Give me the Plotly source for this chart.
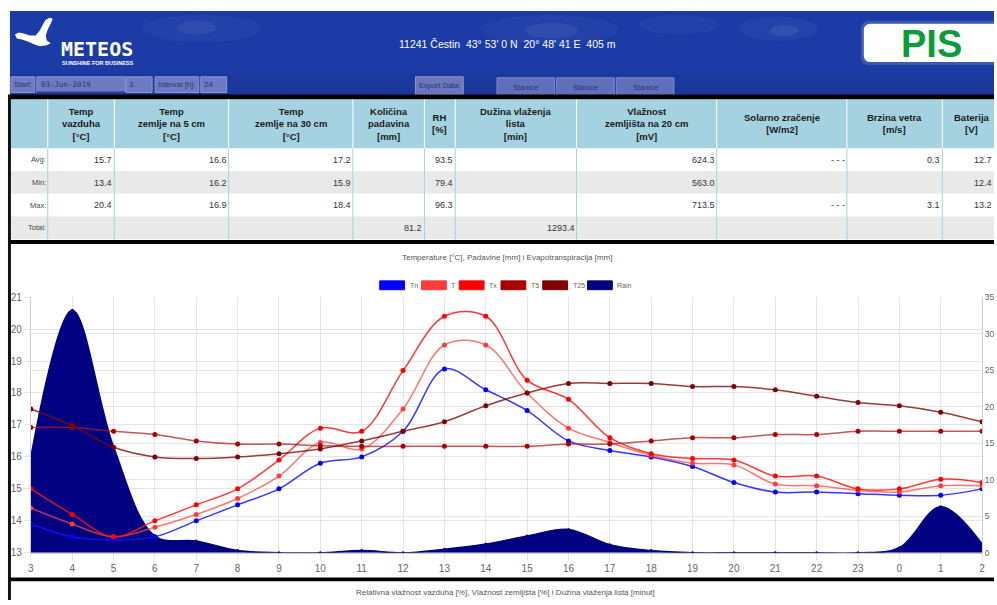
import plotly.graph_objects as go

# ---------------- data ----------------
hours = ["3", "4", "5", "6", "7", "8", "9", "10", "11", "12", "13", "14", "15", "16",
         "17", "18", "19", "20", "21", "22", "23", "0", "1", "2"]
tn = [13.9, 13.5, 13.4, 13.5, 14.0, 14.5, 15.0, 15.8, 16.0, 16.8, 18.75, 18.1, 17.45, 16.5,
      16.2, 16.0, 15.7, 15.2, 14.9, 14.9, 14.85, 14.8, 14.8, 15.0]
t = [14.4, 13.9, 13.5, 13.8, 14.2, 14.7, 15.4, 16.45, 16.25, 17.5, 19.5, 19.5, 18.0, 16.9,
     16.45, 16.05, 15.8, 15.75, 15.15, 15.1, 14.95, 14.9, 15.1, 15.1]
tx = [15.0, 14.2, 13.5, 14.0, 14.5, 15.0, 15.9, 16.9, 16.8, 18.7, 20.4, 20.4, 18.4, 17.8,
      16.6, 16.1, 15.95, 15.9, 15.4, 15.4, 15.0, 15.0, 15.3, 15.2]
t5 = [16.92, 16.92, 16.8, 16.7, 16.5, 16.4, 16.4, 16.35, 16.33, 16.33, 16.33, 16.33, 16.33, 16.4,
      16.4, 16.5, 16.6, 16.6, 16.7, 16.7, 16.8, 16.8, 16.8, 16.8]
t25 = [17.5, 16.98, 16.3, 16.0, 15.95, 16.0, 16.1, 16.25, 16.5, 16.8, 17.1, 17.6, 18.0, 18.3,
       18.3, 18.3, 18.2, 18.2, 18.1, 17.9, 17.7, 17.6, 17.4, 17.1]
rain = [13.1, 33.2, 14.5, 2.3, 1.6, 0.3, 0.0, 0.0, 0.3, 0.0, 0.5, 1.2, 2.3, 3.2,
        1.1, 0.3, 0.0, 0.0, 0.0, 0.0, 0.0, 0.7, 6.3, 1.2]

temp_ticks = [13, 14, 15, 16, 17, 18, 19, 20, 21]
rain_ticks = [0, 5, 10, 15, 20, 25, 30, 35]

station_title = "11241 Čestin  43° 53' 0 N  20° 48' 41 E  405 m"
chart_title = "Temperature [°C], Padavine [mm] i Evapotranspiracija [mm]"
footer_title = "Relativna vlažnost vazduha [%], Vlažnost zemljišta [%] i Dužina vlaženja lista [minut]"

col_headers = ["Temp<br>vazduha<br>[°C]", "Temp<br>zemlje na 5 cm<br>[°C]",
               "Temp<br>zemlje na 30 cm<br>[°C]", "Količina<br>padavina<br>[mm]", "RH<br>[%]",
               "Dužina vlaženja<br>lista<br>[min]", "Vlažnost<br>zemljišta na 20 cm<br>[mV]",
               "Solarno zračenje<br>[W/m2]", "Brzina vetra<br>[m/s]", "Baterija<br>[V]"]
row_labels = ["Avg:", "Min:", "Max:", "Total:"]
avg_vals = ["15.7", "16.6", "17.2", "", "93.5", "", "624.3", "- - -", "0.3", "12.7"]
min_vals = ["13.4", "16.2", "15.9", "", "79.4", "", "563.0", "", "", "12.4"]
max_vals = ["20.4", "16.9", "18.4", "", "96.3", "", "713.5", "- - -", "3.1", "13.2"]
tot_vals = ["", "", "", "81.2", "", "1293.4", "", "", "", ""]

series_names = ["Tn", "T", "Tx", "T5", "T25", "Rain"]
series_colors = ["#0000ff", "#ff3b3b", "#ff0000", "#aa0000", "#800000", "#000080"]
line_colors = ["rgba(20,20,255,0.85)", "rgba(255,70,70,0.75)", "rgba(255,20,20,0.85)",
               "rgba(175,30,30,0.75)", "rgba(128,10,10,0.8)", "#000080"]

# ---------------- helpers ----------------
W, H = 997, 605
SANS = "Liberation Sans, Arial, sans-serif"


def X(p):
    return min(max(p, 0), W) / W


def Y(p):
    return 1 - min(max(p, 0), H) / H


shapes = []
annotations = []


def rect(x0, y0, x1, y1, fill, line=None, lw=0):
    shapes.append(dict(type="rect", xref="paper", yref="paper",
                       x0=X(x0), x1=X(x1), y0=Y(y1), y1=Y(y0),
                       fillcolor=fill, line=dict(color=line or fill, width=lw), layer="above"))


def ellipse(x0, y0, x1, y1, fill):
    shapes.append(dict(type="circle", xref="paper", yref="paper",
                       x0=X(x0), x1=X(x1), y0=Y(y1), y1=Y(y0),
                       fillcolor=fill, line=dict(width=0), layer="above"))


def path(pts, fill):
    d = "M " + " L ".join(f"{X(a):.5f},{Y(b):.5f}" for a, b in pts) + " Z"
    shapes.append(dict(type="path", xref="paper", yref="paper", path=d,
                       fillcolor=fill, line=dict(width=0), layer="above"))


def lbox(x0, y0, y1, r, fill):
    """box rounded on its left side, running to the right edge of the page"""
    def P(a, b):
        return f"{X(a):.5f},{Y(b):.5f}"
    d = (f"M {P(x0 + r, y0)} L {P(W, y0)} L {P(W, y1)} L {P(x0 + r, y1)} "
         f"Q {P(x0, y1)} {P(x0, y1 - r)} L {P(x0, y0 + r)} Q {P(x0, y0)} {P(x0 + r, y0)} Z")
    shapes.append(dict(type="path", xref="paper", yref="paper", path=d,
                       fillcolor=fill, line=dict(width=0), layer="above"))


def text(x, y, s, size=10, color="#333", xanchor="center", yanchor="middle", family=SANS, align="center"):
    annotations.append(dict(x=X(x), y=Y(y), xref="paper", yref="paper", text=s, showarrow=False,
                            xanchor=xanchor, yanchor=yanchor, align=align, borderpad=0,
                            font=dict(size=size, color=color, family=family)))


# ---------------- header ----------------
rect(7, 6, W, 92, "#1c3ba6")
rect(7, 70, W, 92, "#1b389c")
for (a, b, c, d, f) in [(140, 10, 260, 38, "rgba(255,255,255,0.035)"), (175, 16, 215, 30, "rgba(255,255,255,0.06)"),
                        (480, 10, 620, 40, "rgba(255,255,255,0.035)"), (525, 18, 578, 34, "rgba(255,255,255,0.06)"),
                        (640, 10, 720, 30, "rgba(255,255,255,0.035)"), (740, 12, 820, 36, "rgba(255,255,255,0.04)"),
                        (772, 20, 800, 32, "rgba(255,255,255,0.07)")]:
    ellipse(a, b, c, d, f)

# logo bird
path([(12, 30), (16, 28), (21, 29), (27, 31), (33, 31), (37, 26), (40, 20), (43, 15), (47, 13),
      (50, 14), (48, 19), (45, 25), (43, 31), (44, 36), (48, 39), (44, 41), (37, 42), (31, 40),
      (25, 37), (19, 35), (14, 34)], "#ffffff")
text(57, 45, "<b>METEOS</b>", size=20, color="#ffffff", xanchor="left", family="DejaVu Sans Mono, monospace")
text(58, 59, "<b>SUNSHINE FOR BUSINESS</b>", size=5.5, color="#ffffff", xanchor="left", family=SANS)
text(508, 40, station_title.replace("  ", "&nbsp; "), size=10.5, color="#ffffff")

# PIS box
lbox(863, 16, 61, 9, "rgba(255,255,255,0.15)")
lbox(866, 19, 58, 7, "#ffffff")
text(934, 39.5, "<b>PIS</b>", size=38, color="#0c9a3c")

# toolbar
box_fill = "#6d7bc3"
box_line = "#8c97d2"
rect(8, 73, 32, 89, box_fill, box_line, 1)
text(20, 81, "Start:", size=7.5, color="#2a3370")
rect(34, 73, 123, 89, box_fill, box_line, 1)
rect(34, 88, 123, 90, "#2c3f8f")
text(37, 81, "03-Jun-2019", size=7.5, color="#2a3370", xanchor="left", family="DejaVu Sans Mono, monospace")
rect(124, 73, 150, 89, box_fill, box_line, 1)
text(126, 81, "3", size=8, color="#2a3370", xanchor="left")
rect(153, 73, 197, 89, box_fill, box_line, 1)
text(175, 81, "Interval [h]:", size=7.5, color="#2a3370")
rect(199, 73, 225, 89, box_fill, box_line, 1)
text(201, 81, "24", size=8, color="#2a3370", xanchor="left")
rect(415, 73, 463, 91, "#6a77bd", "#8e98d0", 1)
text(439, 82, "Export Data", size=7.5, color="#2a3370")
for x0 in [497, 557, 617]:
    rect(x0, 74, x0 + 58, 92, "#5f6fbb", "#7f8bcb", 1)
    text(x0 + 29, 84, "Stanice", size=7.5, color="#2a3370")

# black separators
rect(7, 91, W, 96, "#000000")
rect(5, 91, 8, H, "#111111")

# ---------------- table ----------------
cols = [8, 45, 112, 227, 352, 424, 455, 577, 718, 849, 945, 997]
rect(8, 96, W, 146, "#a5d2e0")
row_tops = [146, 169, 192, 215]
row_fill = ["#ffffff", "#e9e9e9", "#ffffff", "#e9e9e9"]
for top, f in zip(row_tops, row_fill):
    rect(8, top, W, top + 23, f)
for cx in cols[1:-1]:
    rect(cx - 0.5, 96, cx + 0.5, 146, "#ffffff")
    rect(cx - 0.5, 146, cx + 0.5, 239, "#a5d2e0")
for i, h in enumerate(col_headers):
    cx = (cols[i + 1] + cols[i + 2]) / 2 if i < 9 else 975
    text(cx, 121, "<b>" + h + "</b>", size=9.5, color="#1a1a1a")
for r, (lab, vals) in enumerate(zip(row_labels, [avg_vals, min_vals, max_vals, tot_vals])):
    cy = row_tops[r] + 11.5
    text(44, cy, lab, size=7.5, color="#444", xanchor="right")
    for i, v in enumerate(vals):
        if v:
            text(cols[i + 2] - 1, cy, v, size=9, color="#333", xanchor="right")

rect(7, 239, W, 243, "#000000")
rect(7, 582, W, 586, "#000000")

# ---------------- chart decorations ----------------
text(507, 257, chart_title, size=8, color="#555")
legend_x = [379, 421, 459, 501, 543, 588]
for name, col, lx in zip(series_names, series_colors, legend_x):
    rect(lx, 280.5, lx + 25, 289.5, col, col, 1)
    text(lx + 29, 285, name, size=7, color="#666", xanchor="left")
text(506, 597, footer_title, size=8, color="#555")

# ---------------- traces ----------------
fig = go.Figure()
fig.add_trace(go.Scatter(x=hours, y=rain, name="Rain", yaxis="y", mode="lines+markers",
                         line=dict(color=line_colors[5], width=1.5, shape="spline", smoothing=1.0),
                         marker=dict(size=3, color=series_colors[5]),
                         fill="tozeroy", fillcolor="#000080"))
for name, vals, lc, mc in zip(series_names[:5], [tn, t, tx, t5, t25], line_colors[:5], series_colors[:5]):
    fig.add_trace(go.Scatter(x=hours, y=vals, name=name, yaxis="y2", mode="lines+markers",
                             line=dict(color=lc, width=1.5, shape="spline", smoothing=1.0),
                             marker=dict(size=5, color=mc)))

grid = "#e4e4e4"
tickfont = dict(size=10, color="#666", family=SANS)
fig.update_layout(
    width=W, height=H, autosize=False,
    margin=dict(l=0, r=0, t=0, b=0),
    paper_bgcolor="#ffffff", plot_bgcolor="#ffffff",
    showlegend=False,
    shapes=shapes, annotations=annotations,
    xaxis=dict(domain=[X(28), X(985)], type="category", range=[0, len(hours) - 1],
               showgrid=True, gridcolor=grid, gridwidth=1, ticks="outside", ticklen=6,
               tickcolor=grid, tickfont=tickfont, showline=True, linecolor="#cfcfcf",
               zeroline=False, fixedrange=True),
    yaxis=dict(domain=[Y(557), Y(297)], side="right", range=[0, 35], tickvals=rain_ticks,
               showgrid=True, gridcolor=grid, gridwidth=1, ticks="", ticklen=0,
               tickfont=dict(size=8.5, color="#666", family=SANS), showline=True, linecolor="#cfcfcf",
               zeroline=False, anchor="x"),
    yaxis2=dict(overlaying="y", side="left", range=[13, 21], tickvals=temp_ticks,
                showgrid=True, gridcolor=grid, gridwidth=1, ticks="outside", ticklen=6,
                tickcolor=grid, tickfont=tickfont, showline=True, linecolor="#cfcfcf",
                zeroline=False, anchor="x"),
)

fig.write_html("out.html", config={"displayModeBar": False},
               post_script="document.body.style.margin='0px';")
